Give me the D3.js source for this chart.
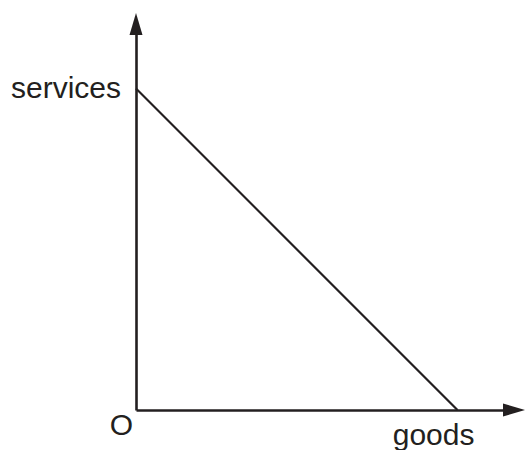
<!DOCTYPE html>
<html>
<head>
<meta charset="utf-8">
<script src="https://cdn.jsdelivr.net/npm/d3@7"></script>
<style>
  body { margin: 0; background: #fff; }
  text { font-family: "Liberation Sans", Arial, sans-serif; fill: #231f20; }
</style>
</head>
<body>
<div class="ppf-holder"></div>
<script>
var goods = [0, 10];
var services = [10, 0];
var labels = {x: "goods", y: "services", origin: "O"};

var W = 526, H = 450;
var ink = "#231f20";

// axis extents run past the curve so the arrows sit near the edges
var scaleX = d3.scaleLinear().domain([0, 12.1]).range([136, 525]);
var scaleY = d3.scaleLinear().domain([0, 12.35]).range([410, 13]);

var svg = d3.select(".ppf-holder")
      .append("svg")
      .attr("width", W)
      .attr("height", H);

/* x-axis */
var x0 = scaleX(0), y0 = scaleY(0);
var xTip = scaleX.range()[1], yTip = scaleY.range()[1];
var arrowLen = 22, arrowHalf = 6.5;

svg.append("g")
   .attr("transform", `translate(0, ${y0})`)
   .call(d3.axisBottom(scaleX.copy().range([x0, xTip - arrowLen + 2])).ticks(0).tickSizeOuter(0))
   .select(".domain").attr("stroke", ink).attr("stroke-width", 2.6);

/* y-axis */
svg.append("g")
   .attr("transform", `translate(${x0}, 0)`)
   .call(d3.axisLeft(scaleY.copy().range([y0, yTip + arrowLen - 2])).ticks(0).tickSizeOuter(0))
   .select(".domain").attr("stroke", ink).attr("stroke-width", 2.6);

// arrow heads
svg.append("path")
   .attr("d", `M${xTip},${y0} L${xTip - arrowLen},${y0 - arrowHalf} L${xTip - arrowLen},${y0 + arrowHalf} Z`)
   .attr("fill", ink);
svg.append("path")
   .attr("d", `M${x0},${yTip} L${x0 - arrowHalf},${yTip + arrowLen} L${x0 + arrowHalf},${yTip + arrowLen} Z`)
   .attr("fill", ink);

/* production possibility line */
var pts = goods.map(function (g, i) { return {x: g, y: services[i]}; });
var line = d3.line()
      .x(function (d) { return scaleX(d.x); })
      .y(function (d) { return scaleY(d.y); });
svg.append("path")
   .datum(pts)
   .attr("d", line)
   .attr("fill", "none")
   .attr("stroke", ink)
   .attr("stroke-width", 2.2);

/* labels */
svg.append("text")
   .attr("x", x0 - 15)
   .attr("y", scaleY(10) + 9)
   .attr("text-anchor", "end")
   .style("font-size", "30px")
   .text(labels.y);

svg.append("text")
   .attr("x", scaleX(10) + 17)
   .attr("y", y0 + 35)
   .attr("text-anchor", "end")
   .style("font-size", "30px")
   .text(labels.x);

svg.append("text")
   .attr("x", x0 - 3)
   .attr("y", y0 + 25)
   .attr("text-anchor", "end")
   .style("font-size", "30px")
   .text(labels.origin);
</script>
</body>
</html>
